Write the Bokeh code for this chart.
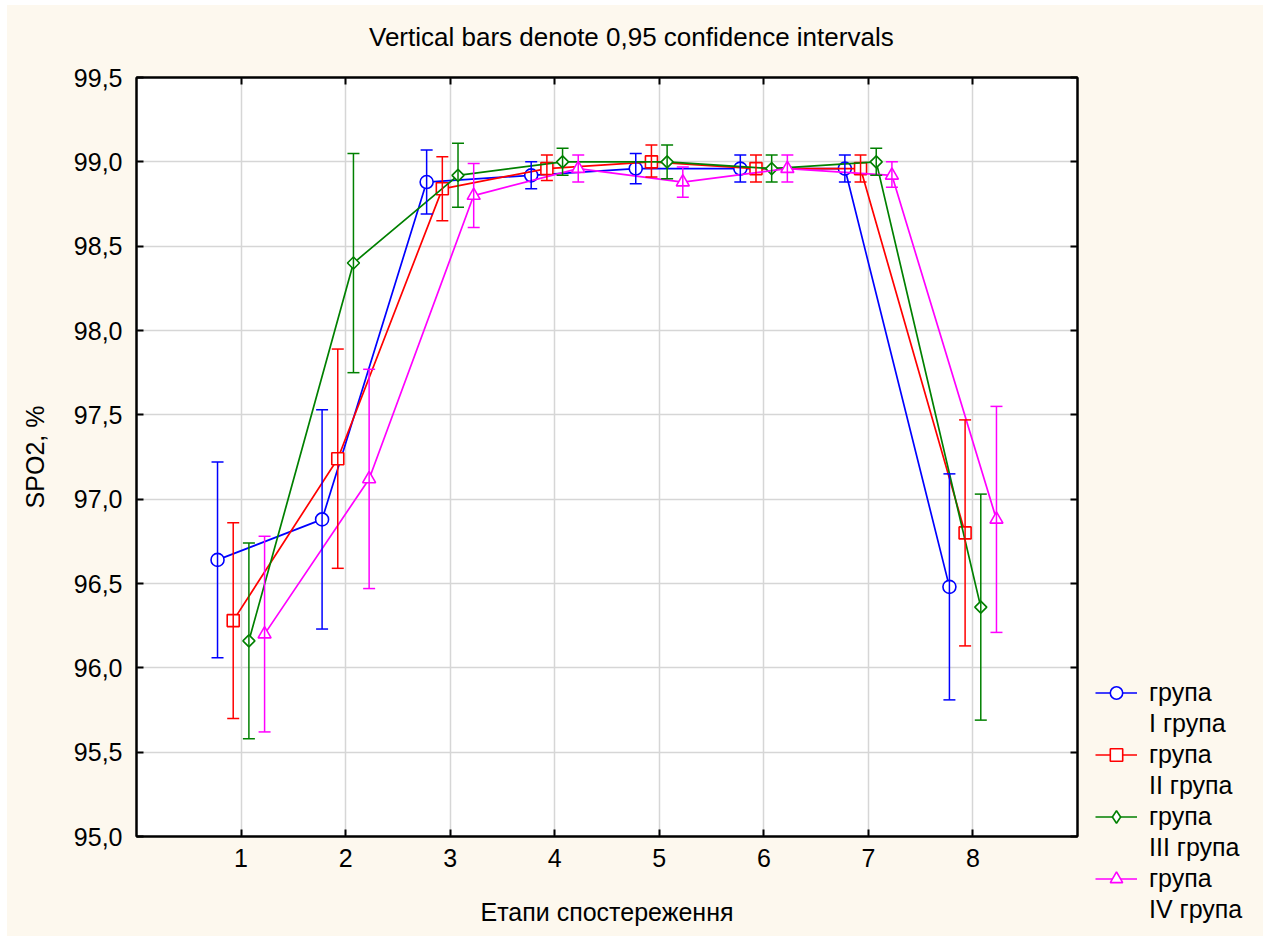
import numpy as np
from bokeh.plotting import figure
from bokeh.layouts import row, column
from bokeh.models import (ColumnDataSource, Whisker, TeeHead, FixedTicker, LinearAxis,
                          Legend, LegendItem, Range1d, Div, CustomLabelingPolicy)
from bokeh.transform import dodge
from bokeh.embed import file_html
from bokeh.resources import INLINE

# ---------------- data ----------------
stages = [1, 2, 3, 4, 5, 6, 7, 8]
x_tick_labels = ["1", "2", "3", "4", "5", "6", "7", "8"]
y_ticks = [95.0, 95.5, 96.0, 96.5, 97.0, 97.5, 98.0, 98.5, 99.0, 99.5]
y_tick_labels = ["95,0", "95,5", "96,0", "96,5", "97,0", "97,5", "98,0", "98,5", "99,0", "99,5"]

group_names = ["I група", "II група", "III група", "IV група"]
title_text = "Vertical bars denote 0,95 confidence intervals"

g1_mean = [96.64, 96.88, 98.88, 98.92, 98.96, 98.96, 98.96, 96.48]
g1_lo = [96.06, 96.23, 98.69, 98.84, 98.87, 98.88, 98.88, 95.81]
g1_hi = [97.22, 97.53, 99.07, 99.00, 99.05, 99.04, 99.04, 97.15]

g2_mean = [96.28, 97.24, 98.84, 98.96, 99.00, 98.96, 98.96, 96.80]
g2_lo = [95.70, 96.59, 98.65, 98.89, 98.91, 98.88, 98.88, 96.13]
g2_hi = [96.86, 97.89, 99.03, 99.04, 99.10, 99.04, 99.04, 97.47]

g3_mean = [96.16, 98.40, 98.92, 99.00, 99.00, 98.96, 99.00, 96.36]
g3_lo = [95.58, 97.75, 98.73, 98.92, 98.90, 98.88, 98.92, 95.69]
g3_hi = [96.74, 99.05, 99.11, 99.08, 99.10, 99.04, 99.08, 97.03]

g4_mean = [96.20, 97.12, 98.80, 98.96, 98.88, 98.96, 98.92, 96.88]
g4_lo = [95.62, 96.47, 98.61, 98.88, 98.79, 98.88, 98.85, 96.21]
g4_hi = [96.78, 97.77, 98.99, 99.04, 98.97, 99.04, 99.00, 97.55]

# ---------------- style ----------------
FONT = "Liberation Sans"
FS = "25px"
BG = "#FDF8EE"
colors = ["#0000FF", "#FF0000", "#008000", "#FF00FF"]
offsets = [-0.225, -0.075, 0.075, 0.225]
markers = ["circle", "square", "square", "triangle"]
msizes = [13, 12, 8.5, 13]
angles = [0, 0, np.pi / 4, 0]
key_markers = ["circle", "square", "diamond", "triangle"]
key_sizes = [13, 12, 14, 13]

title_div = Div(
    text=('<div style="font-family:\'Liberation Sans\';font-size:26px;color:#000;'
          'line-height:30px;padding-left:362px;padding-top:17px;white-space:nowrap">'
          + title_text + '</div>'),
    width=1256, height=50, margin=0, styles={"background-color": BG})

p = figure(width=1080, height=881, output_backend="svg", toolbar_location=None,
           x_range=Range1d(0, 9), y_range=Range1d(95, 99.5),
           min_border_left=129, min_border_right=10, min_border_top=22, min_border_bottom=100,
           background_fill_color="white", border_fill_color=BG,
           outline_line_color="black", outline_line_width=2, margin=0)
p.frame_align = False

p.xaxis.ticker = FixedTicker(ticks=stages)
p.xaxis.major_label_overrides = {s: l for s, l in zip(stages, x_tick_labels)}
p.yaxis.ticker = FixedTicker(ticks=y_ticks)
p.yaxis.major_label_overrides = {t: l for t, l in zip(y_ticks, y_tick_labels)}

for ax in [p.xaxis[0], p.yaxis[0]]:
    ax.major_label_text_font = FONT
    ax.major_label_text_font_size = FS
    ax.major_label_text_color = "black"
    ax.axis_label_text_font = FONT
    ax.axis_label_text_font_size = FS
    ax.axis_label_text_font_style = "normal"
    ax.axis_label_text_color = "black"
    ax.major_tick_in = 7
    ax.major_tick_out = 0
    ax.minor_tick_line_color = None
    ax.axis_line_width = 2
    ax.major_tick_line_width = 2
    ax.major_label_standoff = 12

p.xaxis.axis_label = "Етапи спостереження"
p.xaxis.axis_label_standoff = 28
p.yaxis.axis_label = "SPO2, %"
p.yaxis.axis_label_standoff = 22
p.yaxis.major_label_standoff = 14

# mirrored tick marks on top and right, with no labels
no_labels = CustomLabelingPolicy(code="""
try {
  if (typeof indices.unset === 'function') {
    const all = Array.from(indices)
    for (const i of all) { indices.unset(i) }
  }
} catch (e) {}
return indices
""")
for loc, ticks in [("above", stages), ("right", y_ticks)]:
    ax = LinearAxis(ticker=FixedTicker(ticks=ticks), major_label_text_font_size="0px",
                    major_label_policy=no_labels,
                    major_label_standoff=0, major_tick_in=7, major_tick_out=0,
                    minor_tick_line_color=None, axis_line_width=2, major_tick_line_width=2)
    p.add_layout(ax, loc)

p.xgrid.ticker = FixedTicker(ticks=stages)
p.ygrid.ticker = FixedTicker(ticks=y_ticks)
p.grid.grid_line_color = "#D6D6D6"
p.grid.grid_line_width = 1.5

means = [g1_mean, g2_mean, g3_mean, g4_mean]
los = [g1_lo, g2_lo, g3_lo, g4_lo]
his = [g1_hi, g2_hi, g3_hi, g4_hi]

# legend panel (separate figure at the right); its ranges keep the key renderers out of view
pl = figure(width=176, height=881, output_backend="svg", toolbar_location=None,
            x_range=Range1d(100, 101), y_range=Range1d(100, 101),
            min_border=0, min_border_left=0, min_border_right=0,
            min_border_top=0, min_border_bottom=0, margin=0,
            background_fill_color=BG, border_fill_color=BG, outline_line_color=None)
pl.frame_align = False
pl.axis.visible = False
pl.grid.visible = False

items = []
for i in range(4):
    src = ColumnDataSource(dict(x=stages, y=means[i], lo=los[i], hi=his[i]))
    xd = dodge("x", offsets[i])
    c = colors[i]
    w = Whisker(source=src, base=xd, upper="hi", lower="lo", dimension="height",
                line_color=c, line_width=1.5, level="glyph",
                upper_head=TeeHead(size=12, line_color=c, line_width=1.5),
                lower_head=TeeHead(size=12, line_color=c, line_width=1.5))
    p.add_layout(w)
    p.line(x=xd, y="y", source=src, line_color=c, line_width=1.7)
    p.scatter(x=xd, y="y", source=src, marker=markers[i], size=msizes[i], angle=angles[i],
              line_color=c, line_width=1.6, fill_color="white")
    # legend key renderers (same data & styles, outside the legend panel's view)
    lln = pl.line(x=xd, y="y", source=src, line_color=c, line_width=1.7)
    lsc = pl.scatter(x=xd, y="y", source=src, marker=key_markers[i], size=key_sizes[i],
                     line_color=c, line_width=1.6, fill_color="white")
    dummy = pl.line(x=xd, y="y", source=src, line_alpha=0)
    items.append(LegendItem(label="група", renderers=[lln, lsc]))
    items.append(LegendItem(label=group_names[i], renderers=[dummy]))

legend = Legend(items=items, location=(8, 11), padding=0, margin=0, spacing=0,
                glyph_width=42, glyph_height=31, label_height=31, label_standoff=12,
                label_text_font=FONT, label_text_font_size=FS, label_text_color="black",
                background_fill_alpha=0, border_line_color=None)
pl.add_layout(legend)

layout = column(title_div, row(p, pl, spacing=0, margin=0), spacing=0,
                margin=(5, 0, 0, 7), styles={"background-color": BG})

open("out.html", "w").write(file_html(layout, INLINE))
